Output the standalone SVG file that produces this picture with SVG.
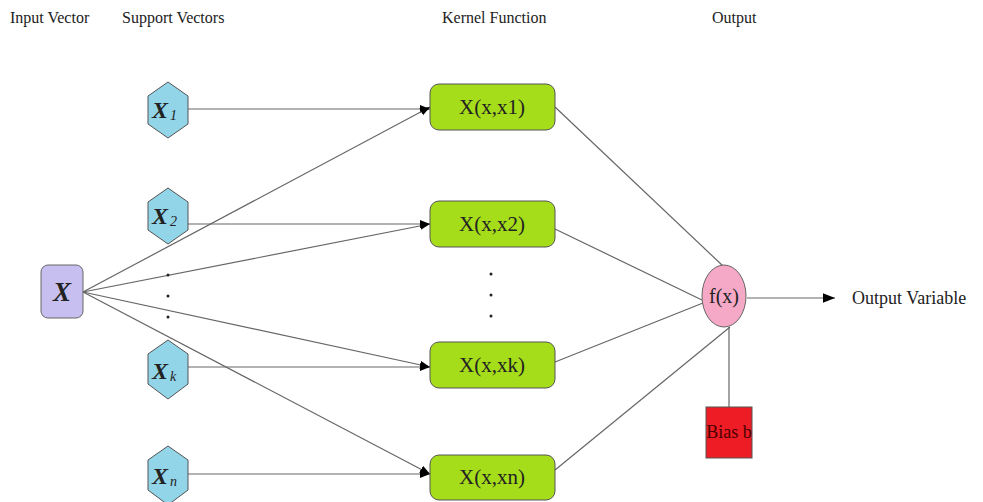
<svg xmlns="http://www.w3.org/2000/svg" width="983" height="502" viewBox="0 0 983 502">
<defs>
<marker id="ah" viewBox="0 0 10 10" refX="10" refY="5" markerWidth="10" markerHeight="10" markerUnits="userSpaceOnUse" orient="auto">
<path d="M0,1 L10,5 L0,9 z" fill="#000"/>
</marker>
<marker id="ah2" viewBox="0 0 10 10" refX="10" refY="5" markerWidth="12" markerHeight="12" markerUnits="userSpaceOnUse" orient="auto">
<path d="M0,1 L10,5 L0,9 z" fill="#000"/>
</marker>
</defs>
<style>
text{font-family:"Liberation Serif","Times New Roman",serif;fill:#222}
.title{font-size:16px}
.hex{fill:#92d4e8;stroke:#555;stroke-width:1}
.ker{fill:#a6dd1a;stroke:#555;stroke-width:1}
.kt{font-size:21px;text-anchor:middle}
.xl{font-size:24px;font-style:italic;font-weight:bold}
.sub{font-size:14px;font-style:italic}
.conn line{stroke:#666;stroke-width:1.2}
.arr{marker-end:url(#ah)}
.dot{fill:#222}
</style>
<rect width="983" height="502" fill="#fff"/>
<g id="titles">
<text class="title" x="10" y="23">Input Vector</text>
<text class="title" x="122" y="23">Support Vectors</text>
<text class="title" x="442" y="23">Kernel Function</text>
<text class="title" x="712" y="23">Output</text>
</g>
<g class="conn" id="connectors">
<line class="arr" x1="188" y1="109" x2="430" y2="109"/>
<line class="arr" x1="188" y1="224" x2="430" y2="224"/>
<line class="arr" x1="188" y1="367" x2="430" y2="367"/>
<line class="arr" x1="188" y1="474" x2="430" y2="474"/>
<line class="arr" x1="83" y1="292" x2="430" y2="107"/>
<line class="arr" x1="83" y1="292" x2="430" y2="224"/>
<line class="arr" x1="83" y1="292" x2="430" y2="367"/>
<line class="arr" x1="83" y1="292" x2="430" y2="474"/>
<line x1="555" y1="107" x2="723" y2="266"/>
<line x1="555" y1="229" x2="702" y2="300"/>
<line x1="555" y1="362" x2="703" y2="303"/>
<line x1="555" y1="470" x2="730" y2="327"/>
<line x1="729" y1="327" x2="729" y2="407"/>
<line x1="747" y1="298" x2="835" y2="298" style="marker-end:url(#ah2)"/>
</g>
<g id="dots">
<circle class="dot" cx="168" cy="275" r="1.5"/>
<circle class="dot" cx="168" cy="296" r="1.5"/>
<circle class="dot" cx="168" cy="317" r="1.5"/>
<circle class="dot" cx="491" cy="274" r="1.5"/>
<circle class="dot" cx="491" cy="295" r="1.5"/>
<circle class="dot" cx="491" cy="316" r="1.5"/>
</g>
<g id="inputX">
<rect x="41" y="265" width="42" height="53" rx="7" fill="#c6bff0" stroke="#666"/>
<text class="xl" x="62" y="301" text-anchor="middle" style="font-size:27px">X</text>
</g>
<g id="sv1">
<polygon class="hex" points="168,82 188,96 188,124 168,138 148,124 148,96"/>
<text class="xl" x="152" y="118">X</text><text class="sub" x="170" y="120">1</text>
</g>
<g id="sv2">
<polygon class="hex" points="168,188 188,202 188,230 168,244 148,230 148,202"/>
<text class="xl" x="152" y="224">X</text><text class="sub" x="170" y="226">2</text>
</g>
<g id="svk">
<polygon class="hex" points="168,340 188,354 188,384 168,399 148,384 148,354"/>
<text class="xl" x="152" y="379">X</text><text class="sub" x="170" y="381">k</text>
</g>
<g id="svn">
<polygon class="hex" points="168,446 188,460 188,490 168,505 148,490 148,460"/>
<text class="xl" x="152" y="484">X</text><text class="sub" x="170" y="486">n</text>
</g>
<g id="k1">
<rect class="ker" x="430" y="84" width="125" height="46" rx="9"/>
<text class="kt" x="492" y="114">X(x,x1)</text>
</g>
<g id="k2">
<rect class="ker" x="430" y="201" width="125" height="46" rx="9"/>
<text class="kt" x="492" y="231">X(x,x2)</text>
</g>
<g id="kk">
<rect class="ker" x="430" y="342" width="125" height="46" rx="9"/>
<text class="kt" x="492" y="372">X(x,xk)</text>
</g>
<g id="kn">
<rect class="ker" x="430" y="455" width="125" height="45" rx="9"/>
<text class="kt" x="492" y="484">X(x,xn)</text>
</g>
<g id="fx">
<ellipse cx="724" cy="296" rx="22" ry="31" fill="#f6a9c6" stroke="#666"/>
<text x="724" y="303" text-anchor="middle" style="font-size:20px">f(x)</text>
</g>
<g id="bias">
<rect x="706" y="407" width="46" height="51" fill="#ee1c24" stroke="#555"/>
<text x="729" y="438" text-anchor="middle" style="font-size:18px;fill:#4a0000">Bias b</text>
</g>
<g id="out">
<text x="852" y="304" style="font-size:18px">Output Variable</text>
</g>
</svg>
